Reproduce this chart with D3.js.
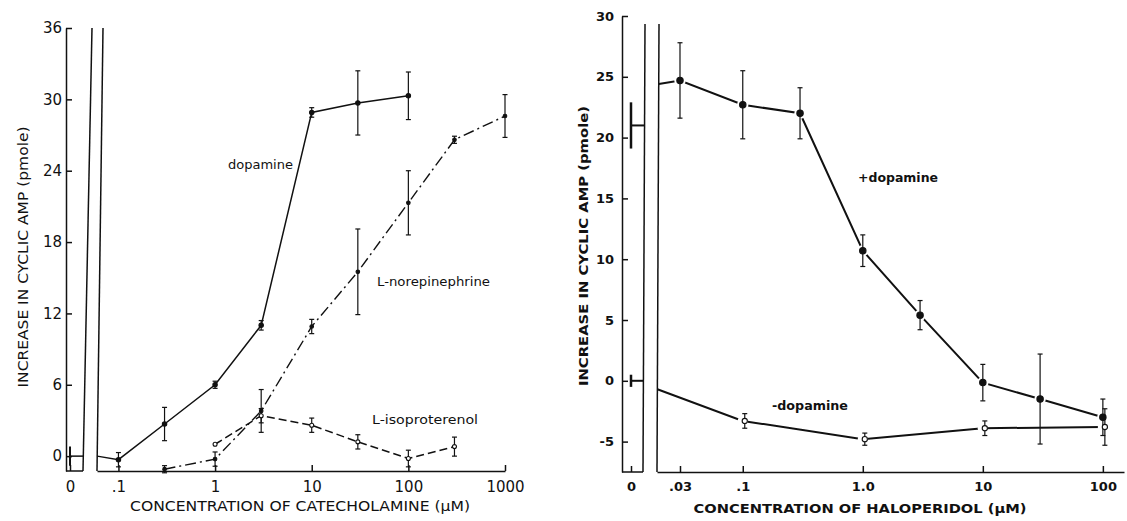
<!DOCTYPE html>
<html>
<head>
<meta charset="utf-8">
<script src="https://cdn.jsdelivr.net/npm/d3@7"></script>
<style>
  body { margin: 0; background: #fff; }
</style>
</head>
<body>
<div id="chart"></div>
<script>
// ---- left panel: catecholamines ----
const catTicks = [0.1, 1, 10, 100, 1000];
const catTickLabels = ['.1', '1', '10', '100', '1000'];
const catYTicks = [0, 6, 12, 18, 24, 30, 36];

const daConc = [0.1, 0.3, 1, 3, 10, 30, 100];
const daVal  = [-0.3, 2.7, 6.0, 11.0, 28.9, 29.7, 30.3];
const daErr  = [0.6, 1.4, 0.3, 0.4, 0.4, 2.7, 2.0];
const daControl = 0, daControlErr = 0.8;

const neConc = [0.3, 1, 3, 10, 30, 100, 300, 1000];
const neVal  = [-1.1, -0.25, 3.8, 10.9, 15.5, 21.3, 26.6, 28.6];
const neErr  = [0.3, 0.6, 1.8, 0.6, 3.6, 2.7, 0.3, 1.8];

const isoConc = [1, 3, 10, 30, 100, 300];
const isoVal  = [1.0, 3.4, 2.6, 1.2, -0.2, 0.8];
const isoErr  = [0, 0.6, 0.6, 0.6, 0.7, 0.8];

// ---- right panel: haloperidol ----
const haloTicks = [0.03, 0.1, 1, 10, 100];
const haloTickLabels = ['.03', '.1', '1.0', '10', '100'];
const haloYTicks = [-5, 0, 5, 10, 15, 20, 25, 30];

const plusConc = [0.03, 0.1, 0.3, 1, 3, 10, 30, 100];
const plusVal  = [24.7, 22.7, 22.0, 10.7, 5.4, -0.15, -1.5, -3.0];
const plusErr  = [3.1, 2.8, 2.1, 1.3, 1.2, 1.5, 3.7, 1.5];
const plusStart = 24.4, plusControl = 21.0, plusControlErr = 1.9;

const minusConc = [0.1, 1, 10, 100];
const minusVal  = [-3.3, -4.8, -3.9, -3.8];
const minusErr  = [0.6, 0.5, 0.6, 1.5];
const minusStart = -0.7, minusControl = 0, minusControlErr = 0.5;

const W = 1127, H = 521;
const svg = d3.select('#chart').append('svg')
    .attr('width', W).attr('height', H)
    .style('background', 'white');

function zip(c, v, e){ return c.map((d,i) => ({c: d, v: v[i], e: e[i]})); }

function drawPanel(p){
    let g = svg.append('g');
    let y = d3.scaleLinear().domain(p.yDomain).range([p.bottom, p.top]);
    let x = d3.scaleLog().domain(p.xDomain).range([p.mainLeft, p.mainRight]);
    let x0 = d3.scaleLinear().domain([-1, 1]).range([p.zeroX - 5, p.zeroX + 5]);

    // x of a slanted break line at a given y
    function breakX(b, yy){
        let t = (yy - b[0][1]) / (b[1][1] - b[0][1]);
        return b[0][0] + t * (b[1][0] - b[0][0]);
    }

    // y axis
    let ya = g.append('g').attr('transform', `translate(${p.left},0)`)
        .call(d3.axisLeft(y).tickValues(p.yTicks).tickSize(-6).tickSizeOuter(0)
            .tickPadding(p.yPad).tickFormat(d => String(d)));

    // zero box x tick
    let za = g.append('g').attr('transform', `translate(0,${p.bottom})`)
        .call(d3.axisBottom(x0).tickValues([0]).tickSize(-6).tickPadding(10).tickFormat(() => '0'));
    za.select('.domain').remove();

    // main x axis
    let xa = g.append('g').attr('transform', `translate(0,${p.bottom})`)
        .call(d3.axisBottom(x).tickValues(p.xTicks).tickSize(-6).tickSizeOuter(0)
            .tickPadding(10).tickFormat((d,i) => p.xLabels[i]));

    [ya, za, xa].forEach(a => {
        a.attr('font-family', p.tickFont).attr('font-size', p.tickSize)
         .attr('font-weight', p.tickWeight);
        a.selectAll('path, line').attr('stroke', '#111').attr('stroke-width', 1.5);
        a.selectAll('text').attr('fill', '#111');
    });

    // box bottom + break lines
    g.append('line')
        .attr('x1', p.left).attr('x2', p.breakA[1][0])
        .attr('y1', p.bottom).attr('y2', p.bottom)
        .attr('stroke', '#111').attr('stroke-width', 1.5);
    [p.breakA, p.breakB].forEach(b => {
        g.append('line')
            .attr('x1', b[0][0]).attr('y1', b[0][1])
            .attr('x2', b[1][0]).attr('y2', b[1][1])
            .attr('stroke', '#111').attr('stroke-width', 1.5);
    });

    let line = d3.line().x(d => x(d.c)).y(d => y(d.v));

    // control values in the zero box
    p.series.filter(s => s.control != null).forEach(s => {
        let yy = y(s.control);
        g.append('line')
            .attr('x1', x0(0)).attr('x2', breakX(p.breakA, yy))
            .attr('y1', yy).attr('y2', yy)
            .attr('stroke', '#111').attr('stroke-width', s.width);
        g.append('line')
            .attr('x1', x0(0)).attr('x2', x0(0))
            .attr('y1', y(s.control - s.controlErr)).attr('y2', y(s.control + s.controlErr))
            .attr('stroke', '#111').attr('stroke-width', s.width + 0.5);
    });

    // curves
    p.series.forEach(s => {
        let pts = s.data.slice();
        if(s.start != null){
            let yy = y(s.start);
            pts.unshift({c: x.invert(breakX(p.breakB, yy)), v: s.start});
        }
        g.append('path')
            .attr('d', line(pts))
            .attr('fill', 'none')
            .attr('stroke', '#111')
            .attr('stroke-width', s.width)
            .attr('stroke-dasharray', s.dash || null);
    });

    // white gaps around markers
    if(p.gaps){
        p.series.forEach(s => {
            g.selectAll(null).data(s.data).join('circle')
                .attr('cx', d => x(d.c)).attr('cy', d => y(d.v))
                .attr('r', s.r + 2.5).attr('fill', 'white');
        });
    }

    // error bars + markers
    p.series.forEach(s => {
        let eb = g.append('g');
        s.data.filter(d => d.e > 0).forEach(d => {
            let cx = x(d.c) + (s.dx || 0);
            let y1 = y(d.v - d.e), y2 = y(d.v + d.e);
            eb.append('line').attr('x1', cx).attr('x2', cx).attr('y1', y1).attr('y2', y2)
                .attr('stroke', '#111').attr('stroke-width', 1.2);
            [y1, y2].forEach(yy => {
                eb.append('line').attr('x1', cx - 2.5).attr('x2', cx + 2.5)
                    .attr('y1', yy).attr('y2', yy)
                    .attr('stroke', '#111').attr('stroke-width', 1.2);
            });
        });
        g.selectAll(null).data(s.data).join('circle')
            .attr('cx', d => x(d.c) + (s.dx || 0)).attr('cy', d => y(d.v))
            .attr('r', s.r)
            .attr('fill', s.open ? 'white' : '#111')
            .attr('stroke', '#111').attr('stroke-width', 1.1);
    });

    // series labels
    p.labels.forEach(l => {
        g.append('text')
            .attr('x', l.x).attr('y', l.y)
            .attr('font-family', p.textFont).attr('font-size', l.size)
            .attr('font-weight', p.textWeight)
            .attr('textLength', l.len).attr('lengthAdjust', 'spacingAndGlyphs')
            .attr('fill', '#111')
            .text(l.text);
    });

    // axis titles
    g.append('text')
        .attr('transform', `translate(${p.yTitle.x},${p.yTitle.y}) rotate(-90)`)
        .attr('text-anchor', 'middle').attr('dy', '0.35em')
        .attr('font-family', p.textFont).attr('font-size', p.yTitle.size)
        .attr('font-weight', p.textWeight)
        .attr('textLength', p.yTitle.len).attr('lengthAdjust', 'spacingAndGlyphs')
        .attr('fill', '#111')
        .text('INCREASE IN CYCLIC AMP (pmole)');
    g.append('text')
        .attr('x', p.xTitle.x).attr('y', p.xTitle.y)
        .attr('text-anchor', 'middle').attr('dy', '0.35em')
        .attr('font-family', p.textFont).attr('font-size', p.xTitle.size)
        .attr('font-weight', p.textWeight)
        .attr('textLength', p.xTitle.len).attr('lengthAdjust', 'spacingAndGlyphs')
        .attr('fill', '#111')
        .text(p.xTitle.text);
}

drawPanel({
    left: 66, top: 28, bottom: 471, zeroX: 70,
    breakA: [[92, 28], [83, 471]],
    breakB: [[103, 28], [97, 471]],
    mainLeft: 97, mainRight: 505,
    xDomain: [0.06, 1000], yDomain: [-1.25, 36],
    xTicks: catTicks, xLabels: catTickLabels, yTicks: catYTicks, yPad: 4,
    tickFont: 'DejaVu Sans', tickSize: 15, tickWeight: 'normal',
    textFont: 'DejaVu Sans', textWeight: 'normal',
    gaps: false,
    series: [
        {data: zip(daConc, daVal, daErr), width: 1.5, r: 2.2, open: false,
         start: daControl, control: daControl, controlErr: daControlErr},
        {data: zip(neConc, neVal, neErr), width: 1.4, r: 1.8, open: false, dash: '11,4,2,4'},
        {data: zip(isoConc, isoVal, isoErr), width: 1.5, r: 2.0, open: true, dash: '8,4'}
    ],
    labels: [
        {text: 'dopamine', x: 228, y: 169, size: 12.5, len: 65},
        {text: 'L-norepinephrine', x: 377, y: 286, size: 12.5, len: 113},
        {text: 'L-isoproterenol', x: 372, y: 424, size: 12.5, len: 106}
    ],
    yTitle: {x: 23, y: 257, size: 14.5, len: 261},
    xTitle: {x: 300, y: 506, size: 14, len: 340, text: 'CONCENTRATION OF CATECHOLAMINE (\u03bcM)'}
});

drawPanel({
    left: 622, top: 16, bottom: 472, zeroX: 631,
    breakA: [[645, 24], [643, 472]],
    breakB: [[659, 24], [657, 472]],
    mainLeft: 657, mainRight: 1124,
    xDomain: [0.0193, 150], yDomain: [-7.5, 30],
    xTicks: haloTicks, xLabels: haloTickLabels, yTicks: haloYTicks, yPad: 8,
    tickFont: 'DejaVu Sans', tickSize: 13, tickWeight: 'bold',
    textFont: 'DejaVu Sans', textWeight: 'bold',
    gaps: true,
    series: [
        {data: zip(plusConc, plusVal, plusErr), width: 2, r: 3.2, open: false,
         start: plusStart, control: plusControl, controlErr: plusControlErr},
        {data: zip(minusConc, minusVal, minusErr), width: 2, r: 2.6, open: true, dx: 2,
         start: minusStart, control: minusControl, controlErr: minusControlErr}
    ],
    labels: [
        {text: '+dopamine', x: 858, y: 182, size: 12, len: 80},
        {text: '-dopamine', x: 772, y: 410, size: 12, len: 76}
    ],
    yTitle: {x: 583, y: 246, size: 13, len: 280},
    xTitle: {x: 860, y: 508, size: 13, len: 333, text: 'CONCENTRATION OF HALOPERIDOL (\u03bcM)'}
});
</script>
</body>
</html>
